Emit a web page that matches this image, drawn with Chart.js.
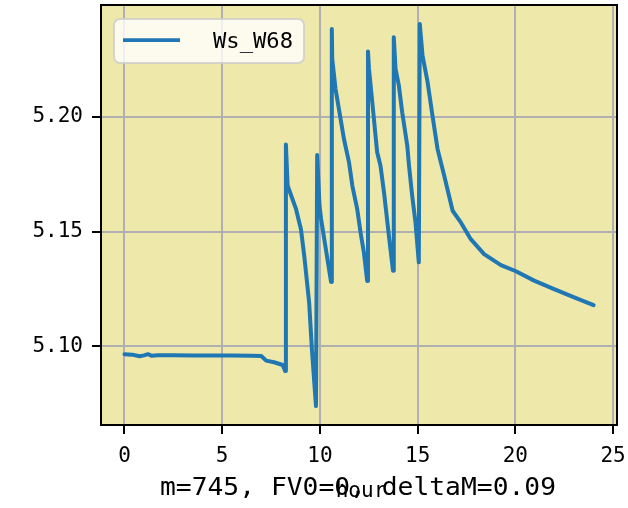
<!DOCTYPE html>
<html lang="en">
<head>
  <meta charset="UTF-8">
  <title>Ws_W68</title>
  <script src="https://cdn.jsdelivr.net/npm/chart.js@4.4.1/dist/chart.umd.min.js"></script>
  <style>
    body { margin: 0; background: #fff; }
    #chart { display: block; }
  </style>
</head>
<body>
  <canvas id="chart" width="628" height="508"></canvas>
  <script>
// hours since start
const hours = [
  0.00, 0.40, 0.77, 1.00, 1.20, 1.40, 1.70, 2.50, 3.50, 4.50, 5.50, 6.50,
  7.00, 7.25, 7.65, 8.10, 8.22,
  8.26, 8.35, 8.78, 9.03, 9.20, 9.45, 9.59, 9.80,
  9.86, 9.98, 10.06, 10.57,
  10.61, 10.63, 10.80, 11.06, 11.23, 11.49, 11.66, 11.91, 12.08, 12.25, 12.42,
  12.46, 12.51, 12.68, 12.93, 13.10, 13.28, 13.53, 13.74,
  13.78, 13.87, 14.04, 14.21, 14.47, 14.56, 14.72, 14.89, 15.06,
  15.11, 15.25, 15.51, 15.76, 16.02, 16.36, 16.79, 17.21, 17.72, 18.40,
  19.26, 20.03, 20.96, 21.98, 23.01, 24.00
];
const wsW68 = [
  5.0965, 5.0963, 5.0956, 5.0960, 5.0965, 5.0958, 5.0960, 5.0960, 5.0959, 5.0959, 5.0959, 5.0958,
  5.0957, 5.0937, 5.0930, 5.0918, 5.0892,
  5.1880, 5.1700, 5.1598, 5.1510, 5.1394, 5.1190, 5.0987, 5.0739,
  5.1834, 5.1613, 5.1555, 5.1280,
  5.2384, 5.2253, 5.2122, 5.1991, 5.1904, 5.1802, 5.1700, 5.1598, 5.1496, 5.1409, 5.1284,
  5.2286, 5.2210, 5.2064, 5.1846, 5.1787, 5.1671, 5.1482, 5.1329,
  5.2348, 5.2210, 5.2137, 5.2021, 5.1875, 5.1787, 5.1657, 5.1540, 5.1366,
  5.2406, 5.2268, 5.2152, 5.2006, 5.1860, 5.1744, 5.1591, 5.1540, 5.1467, 5.1402,
  5.1354, 5.1327, 5.1286, 5.1249, 5.1213, 5.1179
];
const seriesName = "Ws_W68";
const xTitle = "hour";
const footText = "m=745, FV0=0, deltaM=0.09";

const MONO = "'DejaVu Sans Mono', monospace";
const BLUE = "#1f77b4";

// draw text squeezed/stretched to a given width
function fitText(ctx, str, x, y, width, font) {
  ctx.save();
  ctx.font = font;
  const w = ctx.measureText(str).width;
  ctx.translate(x, y);
  ctx.scale(width / w, 1);
  ctx.fillText(str, 0, 0);
  ctx.restore();
}

const decor = {
  id: "decor",
  beforeDraw(chart) {
    const {ctx, chartArea: a} = chart;
    ctx.save();
    ctx.fillStyle = "#eee8aa";
    ctx.fillRect(a.left, a.top, a.right - a.left, a.bottom - a.top);
    ctx.restore();
  },
  afterDraw(chart) {
    const {ctx, chartArea: a} = chart;
    ctx.save();
    // frame
    ctx.strokeStyle = "#000";
    ctx.lineWidth = 2;
    ctx.strokeRect(a.left, a.top, a.right - a.left, a.bottom - a.top);

    // legend
    ctx.beginPath();
    ctx.roundRect(114, 19, 190, 44, 6);
    ctx.fillStyle = "rgba(255,255,255,0.8)";
    ctx.fill();
    ctx.strokeStyle = "rgba(204,204,204,0.8)";
    ctx.lineWidth = 2;
    ctx.stroke();
    ctx.beginPath();
    ctx.moveTo(123, 40);
    ctx.lineTo(180, 40);
    ctx.strokeStyle = BLUE;
    ctx.lineWidth = 3.75;
    ctx.stroke();
    ctx.fillStyle = "#000";
    ctx.textBaseline = "alphabetic";
    ctx.textAlign = "left";
    fitText(ctx, seriesName, 213, 48, 80, "21px " + MONO);

    // axis title and note underneath
    ctx.font = "21px " + MONO;
    ctx.textAlign = "center";
    ctx.fillText(xTitle, 361, 497);
    ctx.textAlign = "left";
    fitText(ctx, footText, 160, 495, 396, "24px " + MONO);
    ctx.restore();
  }
};

new Chart("chart", {
  type: "line",
  data: {
    datasets: [{
      label: seriesName,
      data: hours.map((h, i) => ({x: h, y: wsW68[i]})),
      borderColor: BLUE,
      borderWidth: 4,
      borderJoinStyle: "round",
      borderCapStyle: "round",
      pointRadius: 0,
      tension: 0,
      fill: false
    }]
  },
  options: {
    responsive: false,
    animation: false,
    devicePixelRatio: 1,
    layout: { padding: { left: 0, right: 11, top: 5, bottom: 0 } },
    plugins: {
      legend: { display: false },
      tooltip: { enabled: false }
    },
    scales: {
      x: {
        type: "linear",
        min: -1.2,
        max: 25.2,
        afterFit(scale) {
          scale.height = 83;
          scale.paddingLeft = 0;
          scale.paddingRight = 0;
        },
        border: { display: false },
        grid: { color: "#b0b0b0", lineWidth: 2, tickLength: 9, tickColor: "#000", tickWidth: 2 },
        ticks: {
          stepSize: 5,
          includeBounds: false,
          maxRotation: 0,
          padding: 10,
          color: "#000",
          font: { family: MONO, size: 21 }
        }
      },
      y: {
        type: "linear",
        min: 5.0656,
        max: 5.2489,
        afterFit(scale) {
          scale.width = 101;
          scale.paddingTop = 0;
          scale.paddingBottom = 0;
        },
        border: { display: false },
        grid: { color: "#b0b0b0", lineWidth: 2, tickLength: 9, tickColor: "#000", tickWidth: 2 },
        ticks: {
          stepSize: 0.05,
          includeBounds: false,
          padding: 9,
          color: "#000",
          font: { family: MONO, size: 21 },
          callback: v => v.toFixed(2)
        }
      }
    }
  },
  plugins: [decor]
});
  </script>
</body>
</html>
